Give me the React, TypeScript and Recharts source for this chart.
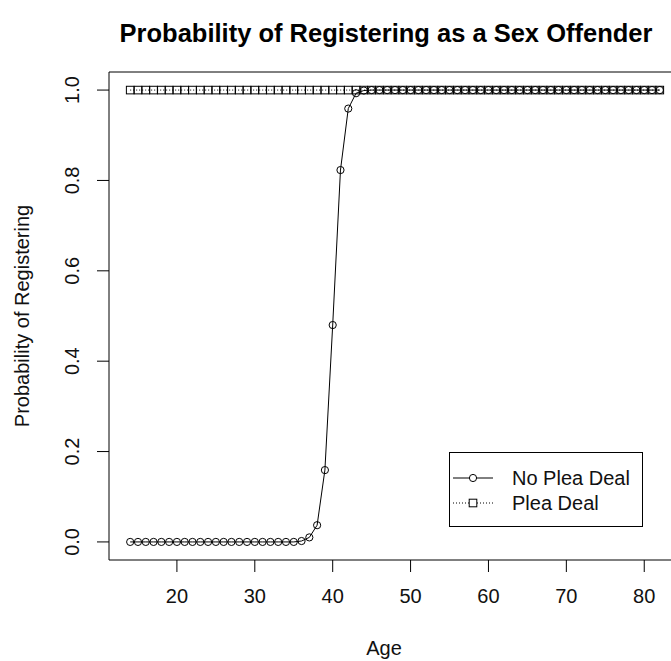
import React from "react";
import { LineChart, Line, XAxis, YAxis, ReferenceArea, Customized } from "recharts";

const ages = [14,15,16,17,18,19,20,21,22,23,24,25,26,27,28,29,30,31,32,33,34,35,36,37,38,39,40,41,42,43,44,45,46,47,48,49,50,51,52,53,54,55,56,57,58,59,60,61,62,63,64,65,66,67,68,69,70,71,72,73,74,75,76,77,78,79,80,81,82];
const noPleaDeal = [0,0,0,0,0,0,0,0,0,0,0,0,0,0,0,0,0,0,0,0,0,0,0.002,0.01,0.037,0.159,0.48,0.823,0.959,0.993,0.999,1,1,1,1,1,1,1,1,1,1,1,1,1,1,1,1,1,1,1,1,1,1,1,1,1,1,1,1,1,1,1,1,1,1,1,1,1,1];
const pleaDeal = [1,1,1,1,1,1,1,1,1,1,1,1,1,1,1,1,1,1,1,1,1,1,1,1,1,1,1,1,1,1,1,1,1,1,1,1,1,1,1,1,1,1,1,1,1,1,1,1,1,1,1,1,1,1,1,1,1,1,1,1,1,1,1,1,1,1,1,1,1];
const xTicks = [20, 30, 40, 50, 60, 70, 80];
const yTicks = [0, 0.2, 0.4, 0.6, 0.8, 1.0];
const xDomain: [number, number] = [11.28, 84.72];
const yDomain: [number, number] = [-0.04, 1.04];
const seriesNames = ["No Plea Deal", "Plea Deal"];
const titleText = "Probability of Registering as a Sex Offender";
const xTitle = "Age";
const yTitle = "Probability of Registering";

const data = ages.map((age, i) => ({ age, noPlea: noPleaDeal[i], plea: pleaDeal[i] }));

const FONT = "'Liberation Sans', Arial, sans-serif";
const INK = "#111";

const XTick = (props: any) => {
  const { x, y, payload } = props;
  return (
    <text x={x} y={y + 31} textAnchor="middle" fontSize={20} fontFamily={FONT} fill={INK}>
      {payload.value}
    </text>
  );
};

const YTick = (props: any) => {
  const { x, y, payload } = props;
  return (
    <text
      transform={`translate(${x - 18},${y}) rotate(-90)`}
      textAnchor="middle"
      fontSize={20}
      fontFamily={FONT}
      fill={INK}
    >
      {Number(payload.value).toFixed(1)}
    </text>
  );
};

const CircleDot = (props: any) => {
  const { cx, cy, index } = props;
  return <circle key={`c${index}`} cx={cx} cy={cy} r={3.6} fill="none" stroke="#000" strokeWidth={1} />;
};

const SquareDot = (props: any) => {
  const { cx, cy, index } = props;
  return (
    <rect key={`s${index}`} x={cx - 3.8} y={cy - 3.8} width={7.6} height={7.6} fill="none" stroke="#000" strokeWidth={1} />
  );
};

const LegendBox = () => (
  <g transform="translate(449,452)">
    <rect x={0.5} y={0.5} width={193} height={74} fill="#fff" stroke="#000" />
    <line x1={4} y1={26} x2={44} y2={26} stroke="#000" />
    <circle cx={24} cy={26} r={3.6} fill="#fff" stroke="#000" />
    <text x={63} y={33} fontSize={20} fontFamily={FONT} fill={INK}>{seriesNames[0]}</text>
    <line x1={4} y1={51} x2={44} y2={51} stroke="#000" strokeDasharray="1 2" />
    <rect x={20.2} y={47.2} width={7.6} height={7.6} fill="#fff" stroke="#000" />
    <text x={63} y={58} fontSize={20} fontFamily={FONT} fill={INK}>{seriesNames[1]}</text>
  </g>
);

const Titles = () => (
  <g>
    <text x={386} y={42} textAnchor="middle" fontSize={25.5} fontWeight="bold" fontFamily={FONT} fill="#000">
      {titleText}
    </text>
    <text x={384} y={655} textAnchor="middle" fontSize={20} fontFamily={FONT} fill={INK}>
      {xTitle}
    </text>
    <text transform={`translate(29,316) rotate(-90)`} textAnchor="middle" fontSize={20} fontFamily={FONT} fill={INK}>
      {yTitle}
    </text>
    <LegendBox />
  </g>
);

export default function App() {
  return (
    <div style={{ position: "fixed", left: 0, top: 0, width: 671, height: 661, overflow: "hidden", background: "#fff" }}>
      <LineChart width={700} height={661} data={data} margin={{ top: 72, right: 19, bottom: 41, left: 49 }}>
        <XAxis
          dataKey="age"
          type="number"
          domain={xDomain}
          ticks={xTicks}
          allowDataOverflow
          axisLine={false}
          tickSize={12}
          tickMargin={0}
          tickLine={{ stroke: "#000" }}
          tick={<XTick />}
          height={60}
        />
        <YAxis
          type="number"
          domain={yDomain}
          ticks={yTicks}
          allowDataOverflow
          axisLine={false}
          tickSize={12}
          tickMargin={0}
          tickLine={{ stroke: "#000" }}
          tick={<YTick />}
          width={60}
        />
        <ReferenceArea x1={xDomain[0]} x2={xDomain[1]} y1={yDomain[0]} y2={yDomain[1]} fill="none" fillOpacity={0} stroke="#000" strokeWidth={1} ifOverflow="visible" />
        <Line
          type="linear"
          dataKey="plea"
          name={seriesNames[1]}
          stroke="#000"
          strokeWidth={1}
          strokeDasharray="1 2"
          dot={<SquareDot />}
          isAnimationActive={false}
        />
        <Line
          type="linear"
          dataKey="noPlea"
          name={seriesNames[0]}
          stroke="#000"
          strokeWidth={1}
          dot={<CircleDot />}
          isAnimationActive={false}
        />
        <Customized component={Titles} />
      </LineChart>
    </div>
  );
}
